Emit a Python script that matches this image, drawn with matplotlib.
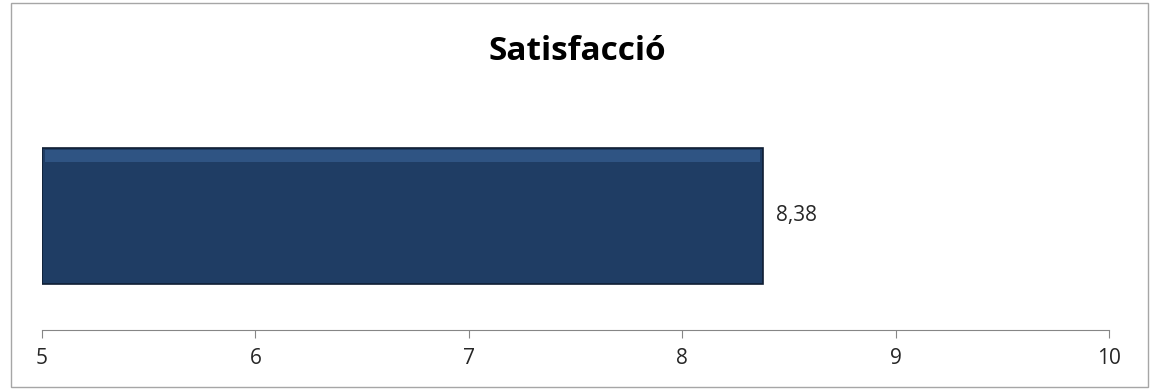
import matplotlib
matplotlib.use("Agg")
import matplotlib.pyplot as plt
from matplotlib.patches import Rectangle

categories = ["Satisfacció"]
values = [8.38]
labels = ["8,38"]
ticks = [5, 6, 7, 8, 9, 10]

plt.rcParams['font.family'] = ['Open Sans', 'DejaVu Sans']

fig = plt.figure(figsize=(11.55, 3.9), dpi=100)
ax = fig.add_axes([42/1155, 1 - 330/390, (1109 - 42)/1155, 190/390])

bar_h = 0.72
# bar with a dark outline, like the excel bevel
ax.barh(range(len(values)), [v - ticks[0] for v in values], left=ticks[0], height=bar_h,
        color='#1f3d64', edgecolor='#0f1e33', linewidth=1.2, zorder=2)
# soft lighter strip along the top edge (bevel)
ax.barh([i + bar_h/2 - 0.045 for i in range(len(values))], [v - ticks[0] - 0.03 for v in values],
        left=ticks[0] + 0.015, height=0.06, color='#2f5483', linewidth=0, zorder=3)
for i, v in enumerate(values):
    ax.text(v + 0.06, i, labels[i], va='center', ha='left', fontsize=15, color='#262626')

ax.set_xlim(ticks[0], ticks[-1])
ax.set_ylim(-0.6, 0.4)
ax.set_xticks(ticks)
ax.set_xticklabels([str(t) for t in ticks], fontsize=15, color='#262626')
ax.set_yticks([])
for s in ['top', 'right', 'left']:
    ax.spines[s].set_visible(False)
ax.spines['bottom'].set_color('#868686')
ax.tick_params(axis='x', direction='out', length=6, color='#868686', pad=7)

fig.text(0.5, 1 - 52/390, categories[0], ha='center', va='center', fontsize=24, fontweight='bold')

# outer chart border
fig.patches.append(Rectangle((11/1155, 3/390), (1148 - 11)/1155, (387 - 3)/390,
                             transform=fig.transFigure, fill=False, edgecolor='#a6a6a6', linewidth=1))

fig.savefig('out.png', dpi=100)
